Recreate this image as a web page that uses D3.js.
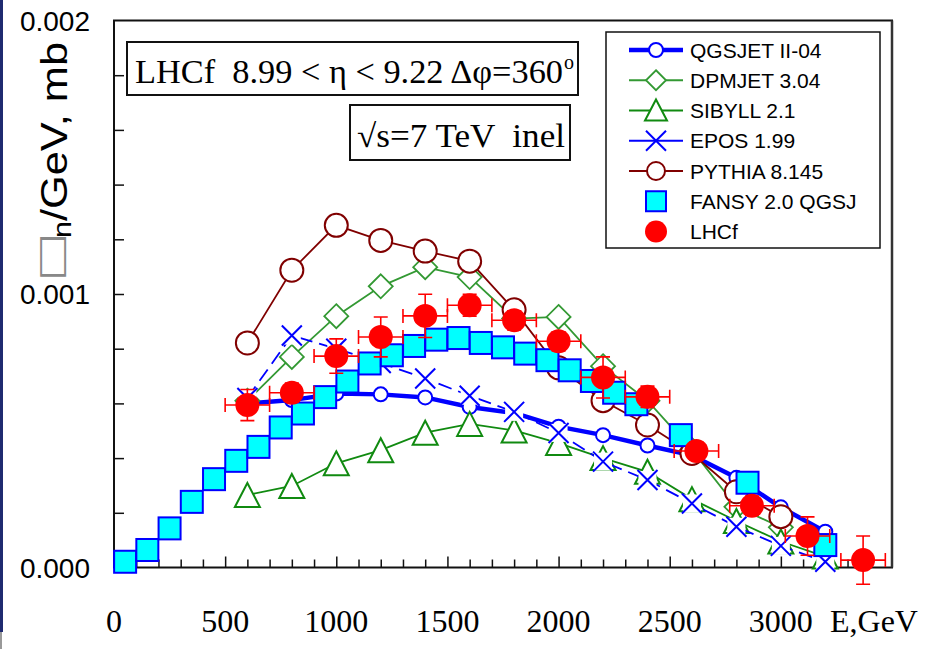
<!DOCTYPE html>
<html><head><meta charset="utf-8">
<script src="https://cdn.jsdelivr.net/npm/d3@7"></script>
<style>
body{margin:0;background:#fff}
svg{display:block}
</style>
</head><body>
<svg id="chart" width="933" height="649"></svg>
<script>
// Energy spectra of forward neutrons, 8.99 < eta < 9.22, sqrt(s) = 7 TeV
// values in units of 1e-3 mb/GeV

const qgsE = [600,800,1000,1200,1400,1600,1800,2000,2200,2400,2600,2800,3000,3200];
const qgsV = [0.600,0.612,0.636,0.633,0.622,0.587,0.565,0.515,0.484,0.446,0.410,0.328,0.220,0.131];

const dpmE = [600,800,1000,1200,1400,1600,1800,2000,2200,2400,2600,2800,3000];
const dpmV = [0.610,0.770,0.919,1.028,1.098,1.062,0.910,0.916,0.736,0.610,0.430,0.222,0.147];

const sibE = [600,800,1000,1200,1400,1600,1800,2000,2200,2400,2600,2800,3000,3200];
const sibV = [0.265,0.298,0.381,0.429,0.493,0.525,0.501,0.455,0.400,0.350,0.250,0.170,0.095,0.040];

const eposE = [600,800,1000,1200,1400,1600,1800,2000,2200,2400,2600,2800,3000,3200];
const eposV = [0.620,0.848,0.800,0.748,0.691,0.628,0.569,0.492,0.387,0.320,0.234,0.149,0.079,0.021];

const pyE = [600,800,1000,1200,1400,1600,1800,2000,2200,2400,2600,2800,3000];
const pyV = [0.821,1.087,1.251,1.196,1.157,1.120,0.942,0.730,0.610,0.521,0.417,0.277,0.186];

const fansyE = [50,150,250,350,450,550,650,750,850,950,1050,1150,1250,1350,1450,1550,1650,1750,1850,1950,2050,2150,2250,2350,2550,2850,3200];
const fansyV = [0.021,0.064,0.143,0.240,0.323,0.390,0.441,0.512,0.563,0.623,0.680,0.746,0.776,0.810,0.833,0.839,0.821,0.805,0.782,0.758,0.721,0.682,0.639,0.597,0.484,0.310,0.082];

const lhcfE = [600,800,1000,1200,1400,1600,1800,2000,2200,2400,2620,2870,3120,3370];
const lhcfV = [0.594,0.639,0.773,0.843,0.920,0.959,0.904,0.827,0.695,0.624,0.426,0.226,0.115,0.027];
const lhcfErrY = [0.057,0.035,0.063,0.073,0.079,0.040,0.035,0.035,0.075,0.039,0.034,0.035,0.070,0.088];
const lhcfErrE = [100,100,100,100,100,100,100,100,100,100,100,100,100,100];

const xTickLabels = [0,500,1000,1500,2000,2500,3000];
const yTickLabels = [0,1,2];
const legendNames = ["QGSJET II-04","DPMJET 3.04","SIBYLL 2.1","EPOS 1.99","PYTHIA 8.145","FANSY 2.0 QGSJ","LHCf"];

const C = {
  blue:"#0000ff", dpm:"#339933", sib:"#108a10", py:"#800000",
  cyan:"#00ffff", red:"#ff0000"
};
const SERIF = "Liberation Serif, Times New Roman, serif";
const SANS = "Liberation Sans, Arial, sans-serif";

const svg = d3.select("#chart");
const x = d3.scaleLinear().domain([0,3500]).range([114,892]);
const y = d3.scaleLinear().domain([0,2]).range([567.5,20.5]);

// left edge strip
svg.append("rect").attr("x",0).attr("y",0).attr("width",3).attr("height",632).attr("fill","#1f2a70");
svg.append("rect").attr("x",0).attr("y",632).attr("width",2).attr("height",17).attr("fill","#999");

// plot frame
svg.append("rect").attr("x",x(0)).attr("y",y(2)).attr("width",x(3500)-x(0)).attr("height",y(0)-y(2))
  .attr("fill","#fff").attr("stroke","#111").attr("stroke-width",2);
svg.append("line").attr("x1",x(3500)).attr("x2",x(3500)).attr("y1",y(2)).attr("y2",y(0))
  .attr("stroke","#333").attr("stroke-width",2.5);

// x ticks (inside, upward)
const xMinor = d3.range(100,3500,100).filter(d => d % 500 !== 0);
const xMajor = d3.range(500,3500,500);
svg.append("g").attr("transform",`translate(0,${y(0)})`)
  .call(d3.axisBottom(x).tickValues(xMinor).tickSize(-8).tickFormat(""))
  .call(g => g.select(".domain").remove())
  .selectAll("line").attr("stroke","#111").attr("stroke-width",1.5);
svg.append("g").attr("transform",`translate(0,${y(0)})`)
  .call(d3.axisBottom(x).tickValues(xMajor).tickSize(-11).tickFormat(""))
  .call(g => g.select(".domain").remove())
  .selectAll("line").attr("stroke","#111").attr("stroke-width",1.5);

// y ticks (inside, rightward)
svg.append("g").attr("transform",`translate(${x(0)},0)`)
  .call(d3.axisLeft(y).tickValues(d3.range(0.2,2,0.2)).tickSize(-10).tickFormat(""))
  .call(g => g.select(".domain").remove())
  .selectAll("line").attr("stroke","#111").attr("stroke-width",1.5);

// tick labels
svg.append("g").selectAll("text").data(xTickLabels).join("text")
  .attr("x",d => x(d)).attr("y",632).attr("text-anchor","middle")
  .attr("font-family",SERIF).attr("font-size",32)
  .text(d => d);
svg.append("text").attr("x",830).attr("y",632)
  .attr("font-family",SERIF).attr("font-size",32)
  .text("E,GeV");
svg.append("g").selectAll("text").data(yTickLabels).join("text")
  .attr("x",90).attr("y",d => y(d)+10).attr("text-anchor","end")
  .attr("font-family",SANS).attr("font-size",28)
  .text(d => (d/1000).toFixed(3));

// y axis title: placeholder symbol, subscript n, unit
svg.append("text").attr("transform","translate(62,257) rotate(-90) scale(1.3,0.85)")
  .attr("text-anchor","middle").attr("fill","#888")
  .attr("font-family","DejaVu Sans").attr("font-size",40).text("□");
const yt = svg.append("text").attr("transform","translate(67,238) rotate(-90)")
  .attr("text-anchor","start")
  .attr("textLength",196).attr("lengthAdjust","spacingAndGlyphs")
  .attr("font-family",SANS).attr("font-size",37);
yt.append("tspan").attr("font-size",26).attr("dy",4).text("n");
yt.append("tspan").attr("dy",-4).text("/GeV, mb");

// annotation boxes
svg.append("rect").attr("x",127).attr("y",42).attr("width",451).attr("height",53)
  .attr("fill","#fff").attr("stroke","#111").attr("stroke-width",2);
svg.append("text").attr("x",135).attr("y",83).style("white-space","pre")
  .attr("font-family",SERIF).attr("font-size",33)
  .attr("textLength",428).attr("lengthAdjust","spacingAndGlyphs")
  .text("LHCf  8.99 < η < 9.22 Δφ=360");
svg.append("text").attr("x",564).attr("y",69)
  .attr("font-family",SERIF).attr("font-size",20).text("o");
svg.append("rect").attr("x",350).attr("y",105).attr("width",220).attr("height",55)
  .attr("fill","#fff").attr("stroke","#111").attr("stroke-width",2);
svg.append("text").attr("x",357).attr("y",147).style("white-space","pre")
  .attr("font-family",SERIF).attr("font-size",33)
  .attr("textLength",208).attr("lengthAdjust","spacingAndGlyphs")
  .text("√s=7 TeV  inel");

// marker shapes
const shapes = {
  circleS: g => g.append("circle").attr("r",7).attr("fill","#fff").attr("stroke",C.blue).attr("stroke-width",2),
  diamond: g => g.append("path").attr("d","M0,-12L12,0L0,12L-12,0Z").attr("fill","#fff").attr("stroke",C.dpm).attr("stroke-width",1.8),
  triangle: g => g.append("path").attr("d","M0,-12L12.5,12L-12.5,12Z").attr("fill","#fff").attr("stroke",C.sib).attr("stroke-width",2),
  cross: g => { g.append("rect").attr("x",-9).attr("y",-9).attr("width",18).attr("height",18).attr("fill","#fff");
                g.append("path").attr("d","M-10,-10L10,10M-10,10L10,-10").attr("stroke",C.blue).attr("stroke-width",2); },
  circleL: g => g.append("circle").attr("r",11.5).attr("fill","#fff").attr("stroke",C.py).attr("stroke-width",2),
  square: g => g.append("rect").attr("x",-11).attr("y",-11).attr("width",22).attr("height",22).attr("fill",C.cyan).attr("stroke",C.blue).attr("stroke-width",2),
  dot: g => g.append("circle").attr("r",12).attr("fill",C.red)
};

const line = d3.line().x(d => x(d[0])).y(d => y(d[1]));

function series(E, V, color, width, dash, shape) {
  const pts = E.map((e,i) => [e, V[i]]);
  const g = svg.append("g");
  if (color) {
    g.append("path").attr("d", line(pts)).attr("fill","none")
      .attr("stroke",color).attr("stroke-width",width)
      .attr("stroke-dasharray",dash || null);
  }
  g.selectAll("g.m").data(pts).join("g").attr("class","m")
    .attr("transform",d => `translate(${x(d[0])},${y(d[1])})`)
    .each(function(){ shapes[shape](d3.select(this)); });
}

series(qgsE, qgsV, C.blue, 4.5, null, "circleS");
series(dpmE, dpmV, C.dpm, 1.8, null, "diamond");
series(sibE, sibV, C.sib, 1.8, null, "triangle");
series(eposE, eposV, C.blue, 1.8, "14,7", "cross");
series(pyE, pyV, C.py, 1.8, null, "circleL");
series(fansyE, fansyV, null, 0, null, "square");

// LHCf data with error bars
const lg = svg.append("g").attr("stroke",C.red).attr("stroke-width",1.6);
lhcfE.forEach((e,i) => {
  const cx = x(e), cy = y(lhcfV[i]);
  const x0 = x(e - lhcfErrE[i]), x1 = x(e + lhcfErrE[i]);
  const y0 = y(lhcfV[i] - lhcfErrY[i]), y1 = y(lhcfV[i] + lhcfErrY[i]);
  lg.append("path").attr("fill","none").attr("d",
    `M${x0},${cy}H${x1}M${x0},${cy-7}V${cy+7}M${x1},${cy-7}V${cy+7}` +
    `M${cx},${y0}V${y1}M${cx-7},${y0}H${cx+7}M${cx-7},${y1}H${cx+7}`);
});
series(lhcfE, lhcfV, null, 0, null, "dot");

// legend
svg.append("rect").attr("x",606).attr("y",32).attr("width",274).attr("height",216)
  .attr("fill","#fff").attr("stroke","#111").attr("stroke-width",1.5);
const legendStyle = [
  {color:C.blue, width:4.5, dash:null, shape:"circleS"},
  {color:C.dpm, width:1.8, dash:null, shape:"diamond"},
  {color:C.sib, width:1.8, dash:null, shape:"triangle"},
  {color:C.blue, width:1.8, dash:"14,7", shape:"cross"},
  {color:C.py, width:1.8, dash:null, shape:"circleL"},
  {color:null, shape:"square"},
  {color:null, shape:"dot"}
];
const rowY = d3.scaleLinear().domain([0,6]).range([50,231.5]);
legendNames.forEach((name,i) => {
  const st = legendStyle[i];
  const ry = rowY(i);
  const g = svg.append("g");
  if (st.color) {
    g.append("line").attr("x1",629).attr("x2",683).attr("y1",ry).attr("y2",ry)
      .attr("stroke",st.color).attr("stroke-width",st.width);
  }
  const m = g.append("g").attr("transform",`translate(656,${ry})`);
  shapes[st.shape](m);
  if (st.shape === "cross") m.select("rect").remove();
  if (st.shape === "circleL") m.select("circle").attr("r",9);
  if (st.shape === "diamond") m.select("path").attr("d","M0,-10L10,0L0,10L-10,0Z");
  if (st.shape === "triangle") m.select("path").attr("d","M0,-11L11,10L-11,10Z");
  if (st.shape === "square") m.select("rect").attr("x",-10).attr("y",-10).attr("width",20).attr("height",20);
  if (st.shape === "dot") m.select("circle").attr("r",11);
  g.append("text").attr("x",690).attr("y",ry+7.5)
    .attr("font-family",SANS).attr("font-size",21)
    .text(name);
});
</script>
</body></html>
